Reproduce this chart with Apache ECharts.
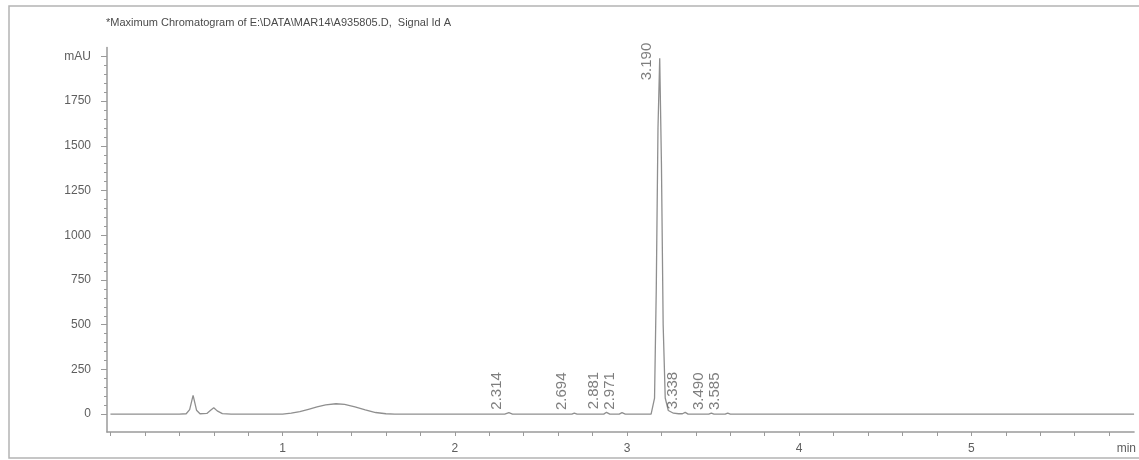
<!DOCTYPE html>
<html>
<head>
<meta charset="utf-8">
<title>Maximum Chromatogram</title>
<script src="https://cdn.jsdelivr.net/npm/echarts@6/dist/echarts.min.js"></script>
<style>
  html, body { margin: 0; padding: 0; background: #fff; }
  #chart { width: 1139px; height: 460px; }
</style>
</head>
<body>
<div id="chart"></div>
<script>
// Detector trace: retention time (min) and absorbance (mAU)
const signalTime = [
  0.00, 0.40, 0.44, 0.46, 0.48, 0.50, 0.52, 0.56, 0.58, 0.60, 0.62, 0.65, 0.70,
  1.00, 1.05, 1.10, 1.15, 1.20, 1.25, 1.31, 1.36, 1.42, 1.48, 1.54, 1.60, 1.65,
  2.290, 2.314, 2.335, 2.680, 2.694, 2.710, 2.865, 2.881, 2.900, 2.955, 2.971, 2.990,
  3.140, 3.150, 3.160, 3.170, 3.180, 3.190, 3.200, 3.210, 3.222, 3.240, 3.270, 3.300,
  3.322, 3.338, 3.355, 3.475, 3.490, 3.505, 3.570, 3.585, 3.600, 5.945
];
const signalMAU = [
  0, 0, 2, 25, 105, 22, 2, 4, 20, 36, 18, 3, 0,
  0, 5, 14, 27, 40, 52, 58, 54, 40, 24, 9, 2, 0,
  0, 8, 0, 0, 6, 0, 0, 10, 0, 0, 8, 0,
  0, 8, 90, 700, 1600, 1990, 1400, 500, 90, 20, 5, 2,
  2, 10, 0, 0, 6, 0, 0, 6, 0, 0
];

// Integrated peaks (retention time labels) and their apex heights
const peakRT = [2.314, 2.694, 2.881, 2.971, 3.190, 3.338, 3.490, 3.585];
const peakHeight = [8, 6, 10, 8, 1990, 10, 6, 6];

// Axis tick labels
const yTickValues = [0, 250, 500, 750, 1000, 1250, 1500, 1750, 2000];
const yTickLabels = ['0', '250', '500', '750', '1000', '1250', '1500', '1750', 'mAU'];
const xTickValues = [1, 2, 3, 4, 5, 5.9];
const xTickLabels = ['1', '2', '3', '4', '5', 'min'];

const titleText = '*Maximum Chromatogram of E:\\DATA\\MAR14\\A935805.D,  Signal Id A';

const FONT = 'Liberation Sans, Arial, sans-serif';
const AXIS_GRAY = '#9a9a9a';
const TEXT_GRAY = '#5e5e5e';

const signalData = signalTime.map((t, i) => [t, signalMAU[i]]);
// labels sit at the apex, clamped below the top of the plot
const labelData = peakRT.map((t, i) => [t, Math.min(peakHeight[i], 1850)]);

// minor tick positions: every 50 mAU, every 0.2 min
const yMinor = [];
for (let v = 0; v <= 2000; v += 50) yMinor.push(v);
const xMinor = [];
for (let k = 0; k <= 29; k++) xMinor.push(Math.round(k * 2) / 10);

const chart = echarts.init(document.getElementById('chart'), null, { renderer: 'canvas' });
chart.setOption({
  animation: false,
  backgroundColor: '#ffffff',
  title: {
    text: titleText,
    left: 101,
    top: 12,
    textStyle: { fontFamily: FONT, fontSize: 11, fontWeight: 'normal', color: '#4a4a4a' }
  },
  graphic: [{
    type: 'rect',
    shape: { x: 9, y: 6, width: 1200, height: 452 },
    style: { fill: 'none', stroke: '#b4b4b4', lineWidth: 1.5 },
    silent: true
  }],
  grid: { left: 107, right: 0, top: 47.5, bottom: 28 },
  xAxis: {
    type: 'value',
    min: -0.02,
    max: 5.945,
    splitLine: { show: false },
    axisLine: { onZero: false, lineStyle: { color: AXIS_GRAY, width: 1.5 } },
    axisTick: { customValues: xMinor, length: 4, lineStyle: { color: AXIS_GRAY } },
    axisLabel: {
      customValues: xTickValues,
      formatter: v => xTickLabels[xTickValues.indexOf(v)],
      color: TEXT_GRAY,
      fontFamily: FONT,
      fontSize: 12,
      margin: 11
    }
  },
  yAxis: [{
    type: 'value',
    min: -100,
    max: 2050,
    splitLine: { show: false },
    axisLine: { show: true, onZero: false, lineStyle: { color: AXIS_GRAY, width: 1.5 } },
    axisTick: { show: true, customValues: yTickValues, length: 6, lineStyle: { color: AXIS_GRAY } },
    axisLabel: {
      customValues: yTickValues,
      formatter: v => yTickLabels[yTickValues.indexOf(v)],
      color: TEXT_GRAY,
      fontFamily: FONT,
      fontSize: 12,
      margin: 16
    }
  }, {
    type: 'value',
    min: -100,
    max: 2050,
    position: 'left',
    splitLine: { show: false },
    axisLine: { show: false, onZero: false },
    axisTick: { show: true, customValues: yMinor, length: 3, lineStyle: { color: AXIS_GRAY } },
    axisLabel: { show: false }
  }],
  series: [{
    name: 'Signal A',
    type: 'line',
    data: signalData,
    showSymbol: false,
    symbol: 'none',
    lineStyle: { color: '#8f8f8f', width: 1.3 },
    silent: true,
    z: 3
  }, {
    name: 'Peak RT',
    type: 'scatter',
    data: labelData,
    symbol: 'circle',
    symbolSize: 1,
    itemStyle: { color: 'rgba(0,0,0,0)' },
    silent: true,
    z: 4,
    label: {
      show: true,
      formatter: p => peakRT[p.dataIndex].toFixed(3),
      rotate: 90,
      position: [-12, -2.5],
      align: 'left',
      verticalAlign: 'middle',
      color: TEXT_GRAY,
      fontFamily: FONT,
      fontSize: 15
    }
  }]
});
</script>
</body>
</html>
